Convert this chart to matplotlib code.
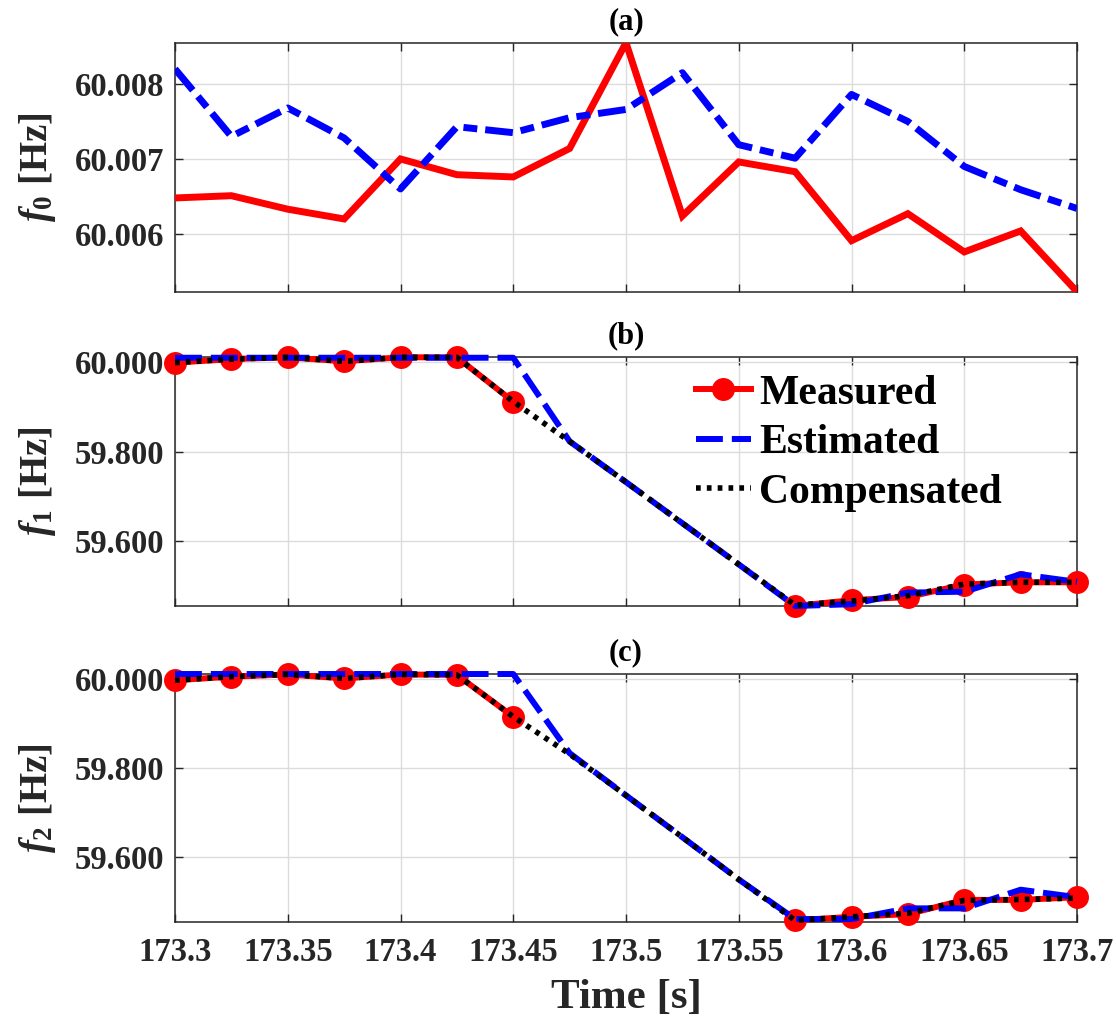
import numpy as np
import matplotlib
matplotlib.use("Agg")
import matplotlib.pyplot as plt
from matplotlib.ticker import FixedLocator, FuncFormatter

plt.rcParams['font.family'] = ['Liberation Serif', 'DejaVu Serif']
plt.rcParams['font.weight'] = 'bold'
plt.rcParams['mathtext.fontset'] = 'custom'
plt.rcParams['mathtext.it'] = 'Liberation Serif:italic:bold'
plt.rcParams['mathtext.rm'] = 'Liberation Serif:bold'
plt.rcParams['mathtext.bf'] = 'Liberation Serif:bold'

# ---------------- data ----------------
time = [173.300, 173.325, 173.350, 173.375, 173.400, 173.425, 173.450, 173.475,
        173.500, 173.525, 173.550, 173.575, 173.600, 173.625, 173.650, 173.675, 173.700]

f0_measured = [60.00648, 60.00651, 60.00633, 60.00620, 60.00700, 60.00679, 60.00676, 60.00714,
               60.00855, 60.00624, 60.00696, 60.00683, 60.00591, 60.00627, 60.00576, 60.00604, 60.00523]
f0_estimated = [60.00820, 60.00730, 60.00768, 60.00728, 60.00660, 60.00743, 60.00735, 60.00755,
                60.00766, 60.00815, 60.00719, 60.00701, 60.00786, 60.00750, 60.00690, 60.00659, 60.00634]

nan = np.nan
f1_measured = [59.999, 60.007, 60.011, 60.002, 60.011, 60.011, 59.912, nan, nan, nan, nan,
               59.455, 59.468, 59.475, 59.503, 59.508, 59.508]
f1_estimated = [60.010, 60.010, 60.010, 60.010, 60.010, 60.010, 60.010, 59.823, 59.732, 59.640, 59.548,
                59.455, 59.459, 59.485, 59.487, 59.526, 59.509]
f1_compensated = [59.999, 60.007, 60.011, 60.002, 60.011, 60.011, 59.912, 59.823, 59.732, 59.640, 59.548,
                  59.457, 59.466, 59.478, 59.504, 59.508, 59.508]

f2_measured = [59.998, 60.006, 60.011, 60.002, 60.011, 60.010, 59.916, nan, nan, nan, nan,
               59.458, 59.466, 59.472, 59.504, 59.504, 59.510]
f2_estimated = [60.012, 60.012, 60.012, 60.012, 60.012, 60.012, 60.012, 59.834, 59.739, 59.645, 59.550,
                59.461, 59.461, 59.485, 59.485, 59.527, 59.510]
f2_compensated = [59.998, 60.006, 60.011, 60.002, 60.011, 60.010, 59.916, 59.832, 59.739, 59.645, 59.550,
                  59.458, 59.466, 59.474, 59.503, 59.505, 59.508]

xticks = [173.3, 173.35, 173.4, 173.45, 173.5, 173.55, 173.6, 173.65, 173.7]
xtick_labels = ['173.3', '173.35', '173.4', '173.45', '173.5', '173.55', '173.6', '173.65', '173.7']
yticks_a = [60.006, 60.007, 60.008]
yticks_bc = [59.6, 59.8, 60.0]
titles = ['(a)', '(b)', '(c)']
ylabels = [r'$f_{\mathit{0}}$ [Hz]', r'$f_{\mathit{1}}$ [Hz]', r'$f_{\mathit{2}}$ [Hz]']
legend_labels = ['Measured', 'Estimated', 'Compensated']

# ---------------- style ----------------
W, H = 1117, 1021
fig = plt.figure(figsize=(W / 100, H / 100), dpi=100)
TXT = '#262626'
left = 175 / W
width = (1077 - 175) / W
boxes = [(42.7, 291.7), (357.3, 606.0), (674.0, 921.7)]
axes = []
for (top, bot) in boxes:
    ax = fig.add_axes([left, 1 - bot / H, width, (bot - top) / H])
    axes.append(ax)

RED = '#ff0000'
BLUE = '#0000ff'

def style(ax, yt, fmt, title, ylabel, show_x):
    ax.set_xlim(time[0], time[-1])
    ax.xaxis.set_major_locator(FixedLocator(xticks))
    if show_x:
        ax.set_xticklabels(xtick_labels)
    else:
        ax.set_xticklabels([])
    ax.yaxis.set_major_locator(FixedLocator(yt))
    ax.yaxis.set_major_formatter(FuncFormatter(lambda v, p: fmt % v))
    ax.tick_params(direction='in', length=6, width=1, colors=TXT, labelsize=23.5,
                   top=True, right=True, pad=8)
    ax.tick_params(axis='x', pad=11)
    for lab in ax.get_xticklabels() + ax.get_yticklabels():
        lab.set_fontweight('bold')
    for s in ax.spines.values():
        s.set_color(TXT)
        s.set_linewidth(1.1)
    ax.grid(True, color='#dcdcdc', linewidth=1.0)
    ax.set_axisbelow(True)
    ax.set_title(title, fontsize=22, fontweight='bold', color='black', pad=10)
    ax.set_ylabel(ylabel, fontsize=28, fontweight='bold', color=TXT, labelpad=12)

# panel (a)
ax = axes[0]
ax.plot(time, f0_measured, color=RED, lw=5, solid_joinstyle='miter', zorder=3)
ax.plot(time, f0_estimated, color=BLUE, lw=5, linestyle=(0, (4, 1.15, 2, 1.15)),
        dash_capstyle='butt', zorder=4)
ax.set_ylim(60.00523, 60.00855)
style(ax, yticks_a, '%.3f', titles[0], ylabels[0], False)

# panels (b) and (c)
handles = None
for ax, meas, est, comp, ylim, title, ylabel, show_x in [
        (axes[1], f1_measured, f1_estimated, f1_compensated, (59.455, 60.011), titles[1], ylabels[1], False),
        (axes[2], f2_measured, f2_estimated, f2_compensated, (59.455, 60.012), titles[2], ylabels[2], True)]:
    h1, = ax.plot(time, meas, color=RED, lw=4.3, marker='o', markersize=15.5,
                  markerfacecolor=RED, markeredgecolor=RED, zorder=3, clip_on=False)
    h2, = ax.plot(time, est, color=BLUE, lw=4.3, linestyle=(0, (4.5, 1.5)),
                  dash_capstyle='butt', zorder=4, clip_on=False)
    h3, = ax.plot(time, comp, color='black', lw=4, linestyle=(0, (0.85, 1.1)),
                  dash_capstyle='butt', zorder=5, clip_on=False)
    ax.set_ylim(*ylim)
    style(ax, yticks_bc, '%.3f', title, ylabel, show_x)
    if handles is None:
        handles = [h1, h2, h3]

axes[2].set_xlabel('Time [s]', fontsize=31, fontweight='bold', color=TXT, labelpad=8)

leg = axes[1].legend(handles, legend_labels, loc='upper left', bbox_to_anchor=(0.578, 0.93),
                     frameon=False, fontsize=30, handlelength=1.3, handletextpad=0.2,
                     labelspacing=0.27, borderpad=0, borderaxespad=0)
for t in leg.get_texts():
    t.set_fontweight('bold')
    t.set_color('black')

fig.savefig('out.png', dpi=100)
